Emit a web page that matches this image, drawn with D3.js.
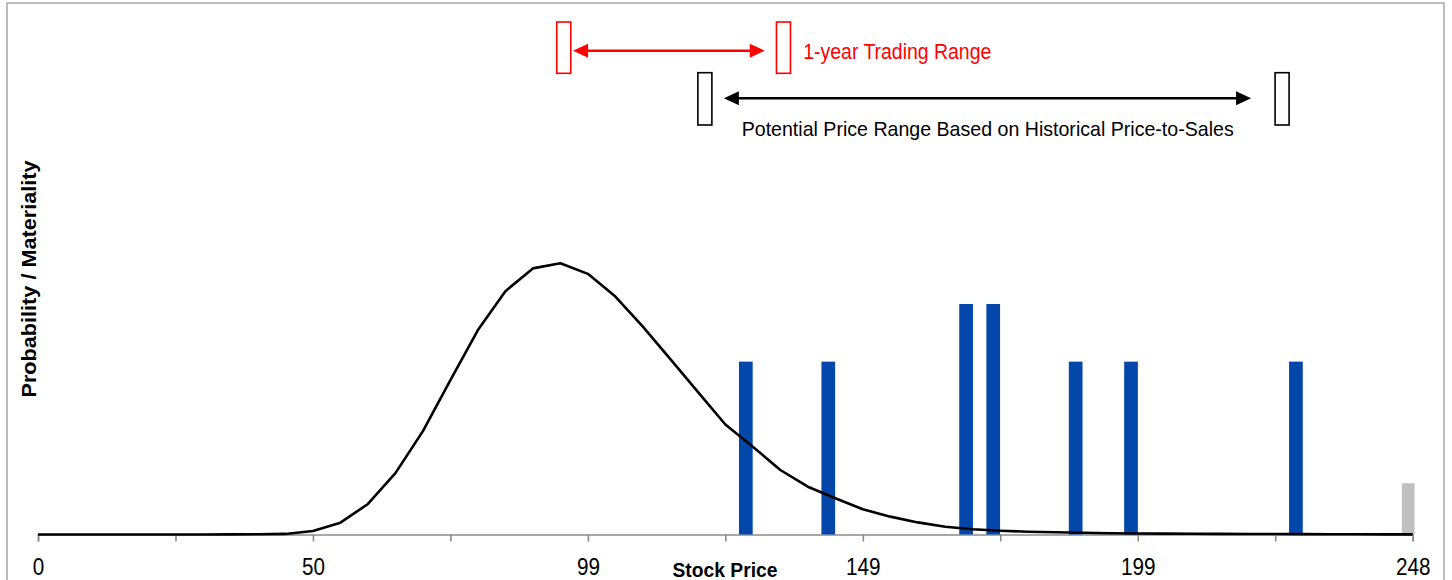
<!DOCTYPE html>
<html>
<head>
<meta charset="utf-8">
<script src="https://cdn.jsdelivr.net/npm/d3@7"></script>
<style>
  html, body { margin: 0; padding: 0; background: #fff; }
  svg { display: block; }
  text { font-family: "Liberation Sans", Arial, sans-serif; }
</style>
</head>
<body>
<svg id="chart" width="1452" height="580"></svg>
<script>
// Probability curve of the stock price, one value per price slot (51 slots from 0 to 248.4)
const curveValues = [
  0, 0, 0, 0, 0, 0, 0, 0.0003, 0.001, 0.002,
  0.012, 0.041, 0.106, 0.213, 0.359, 0.536, 0.710, 0.845, 0.924, 0.942,
  0.905, 0.826, 0.722, 0.609, 0.495, 0.382, 0.305, 0.224, 0.166, 0.126,
  0.0875, 0.062, 0.042, 0.027, 0.018, 0.013, 0.0097, 0.0076, 0.006, 0.0045,
  0.0035, 0.003, 0.0025, 0.002, 0.0018, 0.0015, 0.0012, 0.001, 0.0008, 0.0006,
  0.0005
];

// Implied prices from historical price-to-sales multiples, with their materiality
const implied = [127.9, 142.8, 167.7, 172.6, 187.5, 197.5, 227.3];
const materiality = [3, 3, 4, 4, 3, 3, 3];

// Current price marker
const currentPrice = [247.6];
const currentWeight = [0.89];

// Axis labels
const tickSlots = [0, 10, 20, 30, 40, 50];
const tickLabels = ["0", "50", "99", "149", "199", "248"];
const priceMax = 248.4;

// Ranges shown above the plot
const tradingRange = [95, 134.7];
const priceToSalesRange = [120.5, 224.8];

const svg = d3.select("#chart");

const left = 38, right = 1412.7, base = 534.5;
const slotX = d3.scaleLinear().domain([0, curveValues.length - 1]).range([left, right]);
const priceX = d3.scaleLinear().domain([0, priceMax]).range([left, right]);
const yCurve = d3.scaleLinear().domain([0, 1]).range([base, 246.5]);
const yBar = d3.scaleLinear().domain([0, 4]).range([base, 304]);

// outer frame
svg.append("rect")
  .attr("x", 7).attr("y", 3).attr("width", 1437).attr("height", 600)
  .attr("fill", "none").attr("stroke", "#a6a6a6").attr("stroke-width", 1.5);

// x axis
const axis = d3.axisBottom(slotX)
  .tickValues(d3.range(0, 51, 5))
  .tickSize(7)
  .tickFormat(d => {
    const i = tickSlots.indexOf(d);
    return i >= 0 ? tickLabels[i] : "";
  });

const gx = svg.append("g").attr("transform", `translate(0,${base})`).call(axis);
gx.select(".domain").attr("stroke", "#8c8c8c").attr("stroke-width", 1.6);
gx.selectAll(".tick line").attr("stroke", "#8c8c8c").attr("stroke-width", 1.6);
gx.selectAll(".tick text")
  .attr("y", 40.5).attr("dy", 0)
  .attr("fill", "#000")
  .style("font-size", "24px")
  .style("font-family", "'Liberation Sans', Arial, sans-serif")
  .attr("textLength", d => {
    const i = tickSlots.indexOf(d);
    return i >= 0 ? tickLabels[i].length * 11.5 : null;
  })
  .attr("lengthAdjust", "spacingAndGlyphs");

// axis titles
svg.append("text")
  .attr("x", 725).attr("y", 576.5)
  .attr("text-anchor", "middle")
  .attr("font-weight", "bold").attr("font-size", 21)
  .attr("textLength", 105).attr("lengthAdjust", "spacingAndGlyphs")
  .text("Stock Price");

svg.append("text")
  .attr("transform", "translate(36,279) rotate(-90)")
  .attr("text-anchor", "middle")
  .attr("font-weight", "bold").attr("font-size", 20)
  .attr("textLength", 237).attr("lengthAdjust", "spacingAndGlyphs")
  .text("Probability / Materiality");

// implied price bars
const barW = 13.7;
svg.append("g").selectAll("rect")
  .data(implied.map((p, i) => ({ p, v: materiality[i] })))
  .join("rect")
  .attr("x", d => priceX(d.p) - barW / 2)
  .attr("y", d => yBar(d.v))
  .attr("width", barW)
  .attr("height", d => base - yBar(d.v))
  .attr("fill", "#0447aa");

// current price bar
svg.append("g").selectAll("rect")
  .data(currentPrice.map((p, i) => ({ p, v: currentWeight[i] })))
  .join("rect")
  .attr("x", d => priceX(d.p) - 6.4)
  .attr("y", d => yBar(d.v))
  .attr("width", 12.7)
  .attr("height", d => base - yBar(d.v))
  .attr("fill", "#c0c0c0");

// probability curve
svg.append("path")
  .datum(curveValues)
  .attr("fill", "none")
  .attr("stroke", "#000")
  .attr("stroke-width", 2.6)
  .attr("stroke-linejoin", "round")
  .attr("d", d3.line().x((d, i) => slotX(i)).y(d => yCurve(d)));

// range annotation: bracket boxes, double arrow and caption
function rangeMark(range, opts) {
  const g = svg.append("g");
  const xs = range.map(p => priceX(p));
  const w = 14;
  xs.forEach(cx => {
    g.append("rect")
      .attr("x", cx - w / 2).attr("y", opts.top)
      .attr("width", w).attr("height", opts.h)
      .attr("fill", "#fff").attr("stroke", opts.color).attr("stroke-width", 1.6);
  });
  const x0 = xs[0] + w / 2 + opts.gapL;
  const x1 = xs[1] - w / 2 - opts.gapR;
  const ay = opts.arrowY, hl = 15, hh = 7;
  g.append("line")
    .attr("x1", x0 + 4).attr("x2", x1 - 4).attr("y1", ay).attr("y2", ay)
    .attr("stroke", opts.color).attr("stroke-width", 2.4);
  g.append("path")
    .attr("d", `M${x0},${ay}L${x0 + hl},${ay - hh}L${x0 + hl},${ay + hh}Z`)
    .attr("fill", opts.color);
  g.append("path")
    .attr("d", `M${x1},${ay}L${x1 - hl},${ay - hh}L${x1 - hl},${ay + hh}Z`)
    .attr("fill", opts.color);
  g.append("text")
    .attr("x", opts.textX).attr("y", opts.textY)
    .attr("fill", opts.color).attr("font-size", opts.fs)
    .attr("textLength", opts.tl).attr("lengthAdjust", "spacingAndGlyphs")
    .text(opts.label);
}

rangeMark(tradingRange, {
  color: "#ff0000", top: 22, h: 51.3, arrowY: 50.7, gapL: 2.3, gapR: 11.7,
  label: "1-year Trading Range", textX: 803.3, textY: 59.3, fs: 22, tl: 188
});

rangeMark(priceToSalesRange, {
  color: "#000000", top: 72.7, h: 52.3, arrowY: 98.3, gapL: 12, gapR: 24,
  label: "Potential Price Range Based on Historical Price-to-Sales",
  textX: 741.7, textY: 136, fs: 21, tl: 492
});
</script>
</body>
</html>
